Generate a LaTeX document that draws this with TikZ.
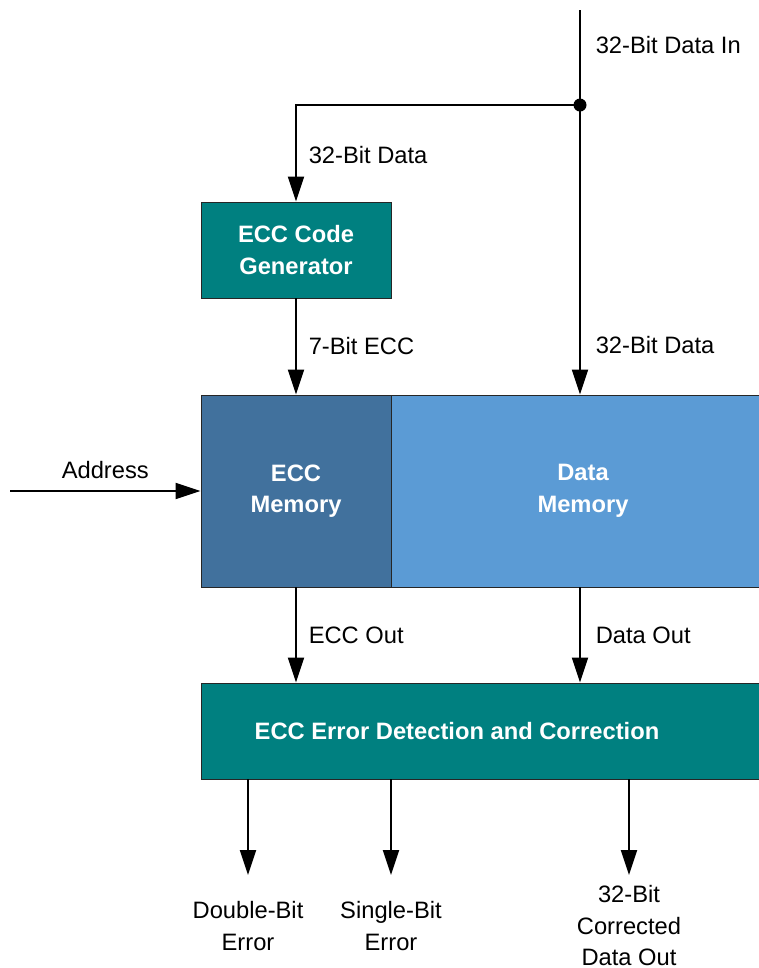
\documentclass[tikz,border=0pt]{standalone}
\usepackage{fontspec}
\setmainfont{Liberation Sans}
\usetikzlibrary{positioning,calc,arrows.meta}
\definecolor{genteal}{RGB}{0,128,128}
\definecolor{eccblue}{RGB}{65,113,157}
\definecolor{datablue}{RGB}{91,155,213}

\begin{document}
\begin{tikzpicture}[x=0.02cm, y=-0.02cm, line width=0.04cm,
	>={Triangle[length=0.5cm, width=0.32cm]}]
	\useasboundingbox (0,0) rectangle (759,968);
	\begin{scope}
		\tikzstyle{every node}=[align=center, inner sep=1pt, font=\fontsize{13.5}{18}\selectfont]
		\tikzstyle{block}=[draw=black!85, line width=0.5pt, text=white, font=\bfseries\fontsize{13.5}{18}\selectfont]
		\node[block, fill=genteal, minimum width=3.8cm, minimum height=1.92cm] (gen) at (296, 250) {ECC Code\\Generator};
		\node[block, fill=eccblue, minimum width=3.8cm, minimum height=3.84cm] (eccmem) at (296, 491) {ECC\\Memory};
		\node[block, fill=datablue, minimum width=7.68cm, minimum height=3.84cm] (datamem) at (583, 491) {Data\\Memory};
		\node[block, fill=genteal, minimum width=11.8cm, minimum height=1.92cm,
			label={[text=white, font=\bfseries\fontsize{13.5}{18}\selectfont, xshift=-0.78cm]center:ECC Error Detection and Correction}] (edc) at (496, 731) {};

		\coordinate (din) at (580, 10);
		\coordinate (split) at (580, 105);
		\coordinate (addr) at (10, 491);
		\coordinate (dbeend) at (248, 875);
		\coordinate (sbeend) at (391, 875);
		\coordinate (cdoend) at (629, 875);

		\node[below=0.47cm of dbeend] (dbe) {Double-Bit\\Error};
		\node[below=0.47cm of sbeend] (sbe) {Single-Bit\\Error};
		\node[below=0.15cm of cdoend] (cdo) {32-Bit\\Corrected\\Data Out};

		\draw [] (din) to node[pos=0.37, right=0.26cm] {32-Bit Data In} (split);
		\draw [->] (split) to node[pos=0.83, right=0.26cm] {32-Bit Data} (din |- datamem.north);
		\draw [->] (split) -| node[pos=0.76, right=0.2cm] {32-Bit Data} (gen.north);
		\fill (split) circle (0.13cm);
		\draw [->] (gen) to node[right=0.2cm] {7-Bit ECC} (eccmem);
		\draw [->] (addr) to node[above=0.2cm] {Address} (eccmem.west);
		\draw [->] (eccmem) to node[right=0.2cm] {ECC Out} (eccmem |- edc.north);
		\draw [->] (din |- datamem.south) to node[right=0.26cm] {Data Out} (din |- edc.north);

		\draw [->] (dbeend |- edc.south) to (dbeend);
		\draw [->] (sbeend |- edc.south) to (sbeend);
		\draw [->] (cdoend |- edc.south) to (cdoend);
	\end{scope}
\end{tikzpicture}
\end{document}
